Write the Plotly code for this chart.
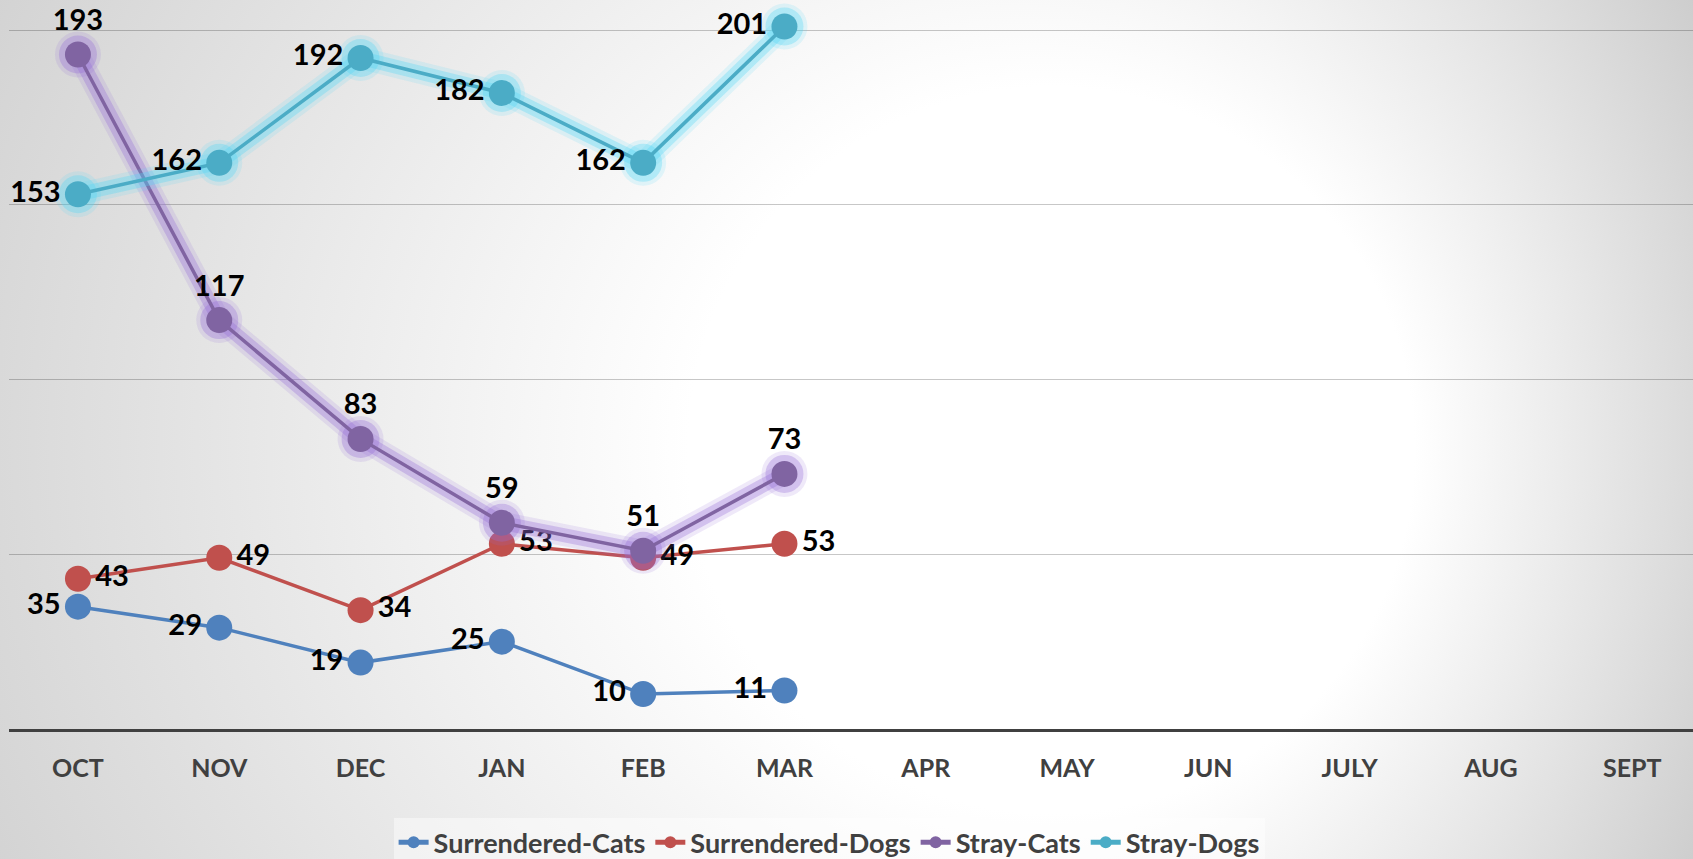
import base64
import plotly.graph_objects as go

months = ["OCT", "NOV", "DEC", "JAN", "FEB", "MAR", "APR", "MAY", "JUN", "JULY", "AUG", "SEPT"]
data_months = ["OCT", "NOV", "DEC", "JAN", "FEB", "MAR"]

surrendered_cats = [35, 29, 19, 25, 10, 11]
surrendered_dogs = [43, 49, 34, 53, 49, 53]
stray_cats = [193, 117, 83, 59, 51, 73]
stray_dogs = [153, 162, 192, 182, 162, 201]

W, H = 1693, 859
FONT = "Lato"

svg = f"""<svg xmlns='http://www.w3.org/2000/svg' width='{W}' height='{H}'>
<defs><radialGradient id='g' cx='750' cy='430' r='1100' fx='1200' fy='460' gradientUnits='userSpaceOnUse'>
<stop offset='0' stop-color='#ffffff'/><stop offset='0.33' stop-color='#ffffff'/>
<stop offset='1' stop-color='#c6c6c6'/></radialGradient></defs>
<rect width='{W}' height='{H}' fill='url(#g)'/></svg>"""
bg_src = "data:image/svg+xml;base64," + base64.b64encode(svg.encode()).decode()

fig = go.Figure()

series = [
    ("Surrendered-Cats", surrendered_cats, "#4F81BD", "middle left", False),
    ("Surrendered-Dogs", surrendered_dogs, "#C0504D", "middle right", False),
    ("Stray-Cats", stray_cats, "#8064A2", "top center", True),
    ("Stray-Dogs", stray_dogs, "#4BACC6", "middle left", True),
]
glow_colors = {
    "Stray-Cats": "rgba(150,110,215,{a})",
    "Stray-Dogs": "rgba(80,215,245,{a})",
}

for name, vals, color, tpos, glow in series:
    if glow:
        gc = glow_colors[name]
        for w, ms, a in [(22, 46, 0.15), (14, 38, 0.32)]:
            fig.add_trace(go.Scatter(
                x=data_months, y=vals, mode="lines+markers",
                line=dict(color=gc.format(a=a), width=w),
                marker=dict(size=ms, color=gc.format(a=a)),
                showlegend=False, hoverinfo="skip",
            ))
    fig.add_trace(go.Scatter(
        x=data_months, y=vals, name=name, mode="lines+markers+text",
        line=dict(color=color, width=3.5),
        marker=dict(size=26, color=color),
        text=[str(v) for v in vals], textposition=tpos,
        textfont=dict(family=FONT, size=29, color="#000000", weight="bold"),
        cliponaxis=False,
    ))

fig.update_layout(
    width=W, height=H,
    margin=dict(l=9, r=0, t=0, b=130, autoexpand=False),
    paper_bgcolor="rgba(0,0,0,0)",
    plot_bgcolor="rgba(0,0,0,0)",
    images=[dict(source=bg_src, xref="paper", yref="paper", x=-9 / (W - 9), y=1,
                 sizex=W / (W - 9), sizey=H / 729, xanchor="left", yanchor="top",
                 sizing="stretch", layer="below")],
    font=dict(family=FONT),
    showlegend=True,
    legend=dict(
        orientation="h", x=0.487, xanchor="center", y=-0.156, yanchor="middle",
        bgcolor="rgba(255,255,255,0.45)",
        font=dict(family=FONT, size=27, color="#404040", weight="bold"),
        itemsizing="constant", tracegroupgap=0, itemwidth=30,
    ),
    xaxis=dict(
        type="category", categoryorder="array", categoryarray=months,
        range=[-0.488, 11.43], showgrid=False, zeroline=False,
        showline=True, linecolor="#404040", linewidth=2.5,
        ticks="", ticklabelstandoff=15,
        tickfont=dict(family=FONT, size=25, color="#404040", weight="bold"),
        tickvals=months, ticktext=months,
    ),
    yaxis=dict(
        range=[0, 208.6], tickvals=[0, 50, 100, 150, 200], showticklabels=False,
        showgrid=True, gridcolor="rgba(0,0,0,0.22)", gridwidth=1.2,
        zeroline=False, showline=False,
    ),
)

fig.write_html(
    "out.html",
    config={"displayModeBar": False},
    post_script="document.body.style.margin='0';document.body.style.overflow='hidden';",
)
